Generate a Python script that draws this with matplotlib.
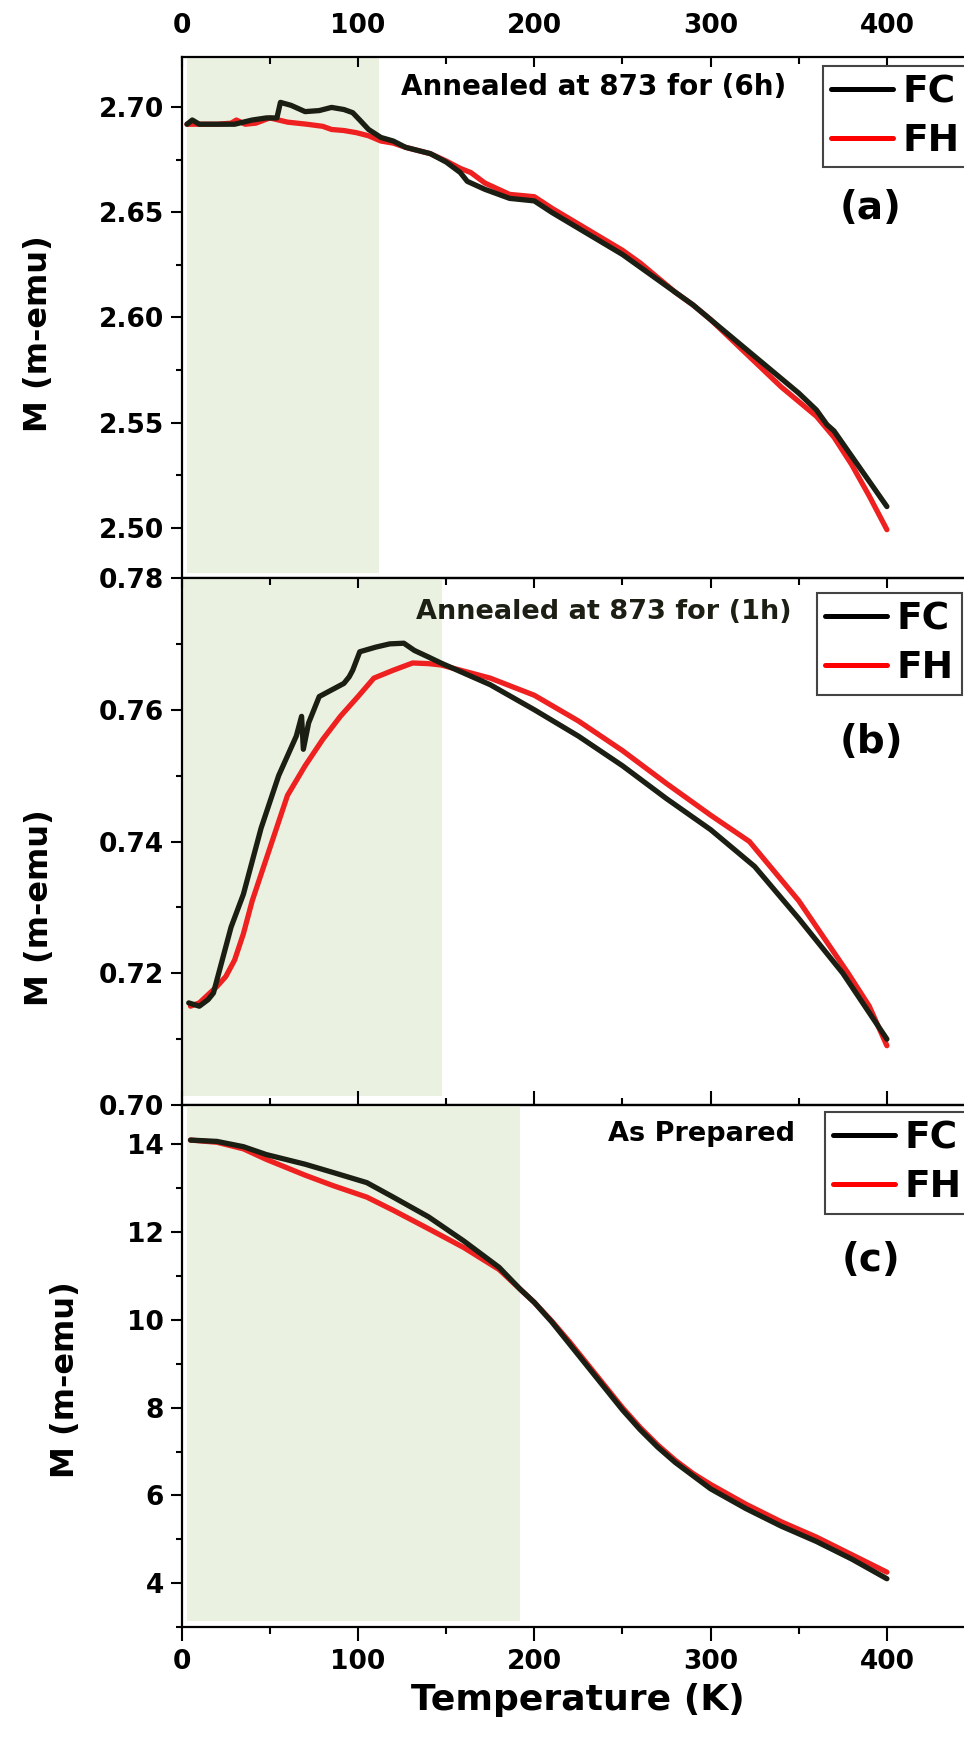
import matplotlib
matplotlib.use('Agg')
import matplotlib.pyplot as plt
from matplotlib.ticker import MultipleLocator

plt.rcParams['font.family'] = ['DejaVu Sans']
plt.rcParams['font.weight'] = 'bold'

# ---- data ----
# (a) annealed 6h
a_fc_T = [3, 6, 10, 20, 30, 40, 48, 54, 56, 62, 70, 78, 85, 92, 97, 101, 106, 113, 120, 127,
          141, 150, 158, 162, 172, 186, 200, 210, 220, 230, 240, 250, 260, 270, 280, 290, 300,
          310, 320, 330, 340, 350, 360, 366, 370, 380, 390, 400]
a_fc_M = [2.692, 2.694, 2.692, 2.692, 2.692, 2.694, 2.695, 2.695, 2.7024, 2.701, 2.698, 2.6985,
          2.700, 2.699, 2.6975, 2.694, 2.6895, 2.6857, 2.684, 2.681, 2.678, 2.674, 2.669,
          2.6648, 2.661, 2.6567, 2.6555, 2.650, 2.645, 2.640, 2.635, 2.630, 2.624, 2.618,
          2.612, 2.606, 2.599, 2.592, 2.585, 2.578, 2.571, 2.564, 2.556, 2.549, 2.546,
          2.534, 2.522, 2.510]
a_fh_T = [3, 10, 20, 28, 31, 36, 42, 50, 60, 71, 80, 85, 92, 99, 106, 113, 120, 127, 141, 150,
          158, 164, 172, 186, 200, 210, 220, 230, 240, 250, 260, 270, 280, 290, 300, 310, 320,
          330, 340, 350, 360, 370, 380, 390, 400]
a_fh_M = [2.692, 2.692, 2.692, 2.6925, 2.694, 2.692, 2.6925, 2.695, 2.693, 2.692, 2.691,
          2.6895, 2.689, 2.688, 2.6865, 2.684, 2.683, 2.681, 2.678, 2.6745, 2.671, 2.669,
          2.664, 2.6586, 2.6575, 2.652, 2.647, 2.642, 2.637, 2.632, 2.626, 2.619, 2.612,
          2.606, 2.599, 2.591, 2.583, 2.575, 2.567, 2.560, 2.553, 2.543, 2.530, 2.515, 2.499]

# (b) annealed 1h
b_fc_T = [4, 10, 15, 18, 20, 23, 28, 35, 40, 45, 50, 55, 60, 65, 68, 69, 72, 78, 85, 92, 95,
          97, 101, 110, 118, 126, 132, 140, 147, 175, 200, 225, 250, 275, 300, 325, 350, 375,
          390, 400]
b_fc_M = [0.7155, 0.715, 0.716, 0.717, 0.719, 0.722, 0.727, 0.732, 0.737, 0.742, 0.746,
          0.750, 0.753, 0.756, 0.759, 0.754, 0.758, 0.762, 0.763, 0.764, 0.765, 0.766, 0.7688,
          0.7695, 0.770, 0.7701, 0.769, 0.768, 0.7671, 0.7638, 0.7600, 0.7560, 0.7515, 0.7465,
          0.7418, 0.7362, 0.7283, 0.7200, 0.7140, 0.7100]
b_fh_T = [5, 10, 20, 25, 30, 35, 40, 45, 50, 55, 60, 70, 80, 90, 100, 109, 120, 131, 140, 147,
          175, 200, 225, 250, 275, 300, 322, 350, 378, 390, 400]
b_fh_M = [0.715, 0.7155, 0.718, 0.7195, 0.722, 0.726, 0.731, 0.735, 0.739, 0.743, 0.747,
          0.7515, 0.7555, 0.759, 0.762, 0.7648, 0.766, 0.7671, 0.767, 0.7668, 0.7648, 0.7622,
          0.7583, 0.7538, 0.7488, 0.7440, 0.7400, 0.7310, 0.7200, 0.7150, 0.7090]

# (c) as prepared
c_fc_T = [5, 20, 35, 48, 70, 86, 105, 120, 140, 160, 180, 192, 200, 210, 220, 230, 240, 250,
          260, 270, 280, 290, 300, 320, 340, 360, 380, 400]
c_fc_M = [14.1, 14.07, 13.95, 13.77, 13.55, 13.36, 13.13, 12.8, 12.35, 11.8, 11.2, 10.7,
          10.4, 9.95, 9.45, 8.95, 8.45, 7.95, 7.5, 7.1, 6.75, 6.45, 6.15, 5.7, 5.3, 4.95,
          4.55, 4.1]
c_fh_T = [5, 20, 35, 48, 70, 86, 105, 120, 139, 160, 180, 192, 200, 210, 220, 230, 240, 250,
          260, 270, 280, 290, 300, 320, 340, 360, 380, 400]
c_fh_M = [14.1, 14.05, 13.9, 13.66, 13.3, 13.06, 12.8, 12.5, 12.1, 11.65, 11.15, 10.7,
          10.4, 9.97, 9.5, 9.0, 8.5, 8.0, 7.55, 7.15, 6.8, 6.5, 6.25, 5.8, 5.4, 5.05,
          4.65, 4.25]

titles = ['Annealed at 873 for (6h)', 'Annealed at 873 for (1h)', 'As Prepared']
tags = ['(a)', '(b)', '(c)']
shade_T = [(3, 112), (0.7, 147.5), (3, 192)]

fc_color = '#1b1e12'
fh_color = '#ee2020'
shade_color = '#eaf1e1'

W, H = 964, 1737
fig = plt.figure(figsize=(W / 100, H / 100), dpi=100)

left = 181.7
right = left + 450 * 1.763
# (top, bottom) of each panel in pixels
rows = [(57, 578), (578, 1105), (1105, 1627)]
axes = []
for top, bot in rows:
    ax = fig.add_axes([left / W, 1 - bot / H, (right - left) / W, (bot - top) / H])
    ax.patch.set_visible(False)
    axes.append(ax)

data = [(a_fc_T, a_fc_M, a_fh_T, a_fh_M),
        (b_fc_T, b_fc_M, b_fh_T, b_fh_M),
        (c_fc_T, c_fc_M, c_fh_T, c_fh_M)]
ylims = [(2.476, 2.724), (0.70, 0.78), (3.0, 14.9)]
ymajor = [0.05, 0.02, 2]
yfmt = ['%.2f', '%.2f', '%d']
shade_bot = [0.01, 0.017, 0.0115]
leg_anchor = [(0.808, 0.983), (0.801, 0.9715), (0.811, 0.9866)]
title_pos = [(343, 0.942, 20, 'black'), (346, 0.9355, 19.5, '#1c2014'), (348, 0.944, 19.5, 'black')]
tag_y = [0.710, 0.689, 0.703]
ylab_pos = [(-0.181, 0.47), (-0.179, 0.375), (-0.146, 0.473)]

for i, ax in enumerate(axes):
    fcT, fcM, fhT, fhM = data[i]
    ax.axvspan(shade_T[i][0], shade_T[i][1], ymin=shade_bot[i], ymax=1,
               color=shade_color, lw=0, zorder=0)
    ax.plot(fcT, fcM, color=fc_color, lw=3.8, label='FC', zorder=3,
            solid_joinstyle='round', solid_capstyle='round')
    ax.plot(fhT, fhM, color=fh_color, lw=3.8, label='FH', zorder=2,
            solid_joinstyle='round', solid_capstyle='round')
    ax.set_xlim(0, 450)
    ax.set_ylim(*ylims[i])

    ax.xaxis.set_major_locator(MultipleLocator(100))
    ax.xaxis.set_minor_locator(MultipleLocator(50))
    ax.yaxis.set_major_locator(MultipleLocator(ymajor[i]))
    ax.yaxis.set_minor_locator(MultipleLocator(ymajor[i] / 2))
    ax.yaxis.set_major_formatter(plt.FormatStrFormatter(yfmt[i]))

    ax.tick_params(axis='y', which='major', direction='out', length=8, width=1.5,
                   labelsize=19, pad=5)
    ax.tick_params(axis='y', which='minor', direction='out', length=4, width=1.5)
    ax.tick_params(axis='x', which='both', top=True, bottom=(i == 2), direction='in',
                   width=1.5, labelbottom=False, labeltop=False)
    ax.tick_params(axis='x', which='major', length=7)
    ax.tick_params(axis='x', which='minor', length=5)
    for s in ax.spines.values():
        s.set_linewidth(1.6)

    # x in data units, y in axes fraction
    tr = ax.get_xaxis_transform()
    ax.text(title_pos[i][0], title_pos[i][1], titles[i], transform=tr,
            ha='right', va='center', fontsize=title_pos[i][2], color=title_pos[i][3],
            fontweight='bold')
    ax.text(391, tag_y[i], tags[i], transform=tr,
            ha='center', va='center', fontsize=28, fontweight='bold')
    ax.text(ylab_pos[i][0], ylab_pos[i][1], 'M (m-emu)', transform=ax.transAxes,
            rotation=90, ha='center', va='center', fontsize=23, fontweight='bold')

    leg = ax.legend(loc='upper left', bbox_to_anchor=leg_anchor[i], borderaxespad=0,
                    fontsize=27, handlelength=1.65, handletextpad=0.25,
                    labelspacing=0.35, borderpad=0.22, fancybox=False, framealpha=1,
                    edgecolor='#444444')
    leg.get_frame().set_linewidth(1.5)
    for ln in leg.get_lines():
        ln.set_linewidth(3.6)
    leg.get_lines()[0].set_color('black')
    leg.get_lines()[1].set_color('red')

# top x labels on panel (a)
axes[0].tick_params(axis='x', which='major', labeltop=True, labelsize=19, pad=13)
# bottom x labels on panel (c)
axes[2].tick_params(axis='x', which='both', bottom=True, labelbottom=True)
axes[2].tick_params(axis='x', which='major', direction='out', length=10, labelsize=19, pad=6)
axes[2].tick_params(axis='x', which='minor', direction='out', length=5)
axes[2].tick_params(axis='x', which='both', top=True)

fig.text(578 / W, 1 - 1700 / H, 'Temperature (K)', ha='center', va='center',
         fontsize=26, fontweight='bold')

fig.savefig('out.png', dpi=100)
